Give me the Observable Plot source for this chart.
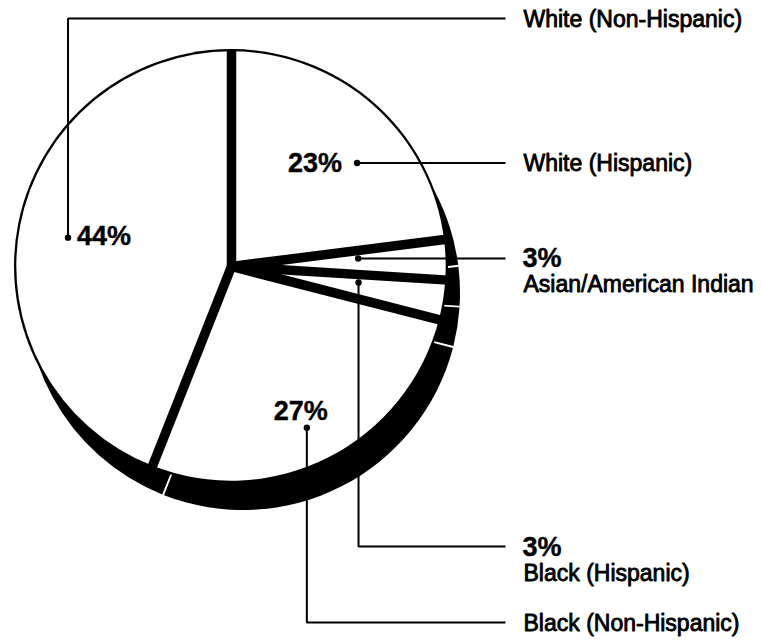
<!DOCTYPE html>
<html><head><meta charset="utf-8">
<script src="https://cdn.jsdelivr.net/npm/d3@7"></script>
<script src="https://cdn.jsdelivr.net/npm/@observablehq/plot@0.6"></script>
<style>
body{margin:0;background:#fff;}
#chart svg{display:block;}
</style>
</head><body><div id="chart"></div>
<script>
// ---- data (clockwise from 12 o'clock) ----
const categories = ["White (Hispanic)", "Asian/American Indian", "Black (Hispanic)", "Black (Non-Hispanic)", "White (Non-Hispanic)"];
const shares = [23, 3, 3, 27, 44];
const pctLabels = ["23%", "3%", "3%", "27%", "44%"];

// ---- layout (not data) ----
const W = 761, H = 641;
const CX = 231, CY = 266, R = 217;
const SHADOW = [12, 27];
const GAP = 9.5;                        // black gap width between slices (px)
// anchor dot: fraction along slice span and fraction of radius
const anchorT = [0.61, 0.33, 0.33, 0.52, 0.495];
const anchorR = [0.75, 0.585, 0.59, 0.82, 0.765];
const route = ["h", "h", "v", "v", "v"];           // leader routing
const labelLineY = [null, null, 546, 622, 18];     // for vertical routes
const pctPlace = ["left", "column", "column", "above", "right"];
const LINE_END = 505, LABEL_X = 524;

const pie = d3.pie().sort(null).value(d => d.share)(categories.map((c, i) => ({cat: c, share: shares[i], i})));
const rows = pie.map((a, i) => {
  const ang = a.startAngle + anchorT[i] * (a.endAngle - a.startAngle);
  const r = anchorR[i] * R;
  const ax = CX + r * Math.sin(ang), ay = CY - r * Math.cos(ang);
  const ly = route[i] === "h" ? ay : labelLineY[i];
  return {cat: a.data.cat, pct: pctLabels[i], a, ax, ay, ly, i};
});
// slice boundaries (radial gaps)
const bounds = pie.map(a => ({x1: CX, y1: CY, x2: CX + R * Math.sin(a.startAngle), y2: CY - R * Math.cos(a.startAngle)}));

const leaders = rows.flatMap(d => route[d.i] === "h"
  ? [{k: d.i, x: d.ax, y: d.ay}, {k: d.i, x: LINE_END, y: d.ly}]
  : [{k: d.i, x: d.ax, y: d.ay}, {k: d.i, x: d.ax, y: d.ly}, {k: d.i, x: LINE_END, y: d.ly}]);

const pctText = rows.map(d => {
  const p = pctPlace[d.i];
  if (p === "left") return {t: d.pct, x: d.ax - 15, y: d.ay + 9, anchor: "end"};
  if (p === "right") return {t: d.pct, x: d.ax + 9, y: d.ay + 7, anchor: "start"};
  if (p === "above") return {t: d.pct, x: d.ax - 6, y: d.ay - 8, anchor: "middle"};
  return {t: d.pct, x: LABEL_X - 2, y: d.ly + 9, anchor: "start"};
});
const catText = rows.map(d => ({t: d.cat, x: LABEL_X - 1, y: pctPlace[d.i] === "column" ? d.ly + 34 : d.ly + 8}));

function pieMark(index, scales, values, dimensions) {
  const sx = scales.x, sy = scales.y;
  const cx = sx(CX), cy = sy(CY), r = sx(CX + R) - sx(CX);
  const g = d3.create("svg:g");
  // shadow / depth
  const arcS = d3.arc().innerRadius(0).outerRadius(r).padAngle(2 / r).padRadius(r);
  g.append("g").attr("transform", `translate(${cx + SHADOW[0]},${cy + SHADOW[1]})`)
    .selectAll("path").data(pie).join("path").attr("d", arcS).attr("fill", "#000");
  // black base disk (outline)
  g.append("circle").attr("cx", cx).attr("cy", cy).attr("r", r).attr("fill", "#000");
  // white slices
  const arcW = d3.arc().innerRadius(0).outerRadius(r - 2.3);
  g.append("g").attr("transform", `translate(${cx},${cy})`)
    .selectAll("path").data(pie).join("path").attr("d", arcW).attr("fill", "#fff");
  return g.node();
}

const font = "'Liberation Sans', Arial, Helvetica, sans-serif";
const pctOpts = {x: "x", y: "y", text: "t", lineAnchor: "bottom", fontSize: 27, fontWeight: "bold", fill: "#000", stroke: "#000", strokeWidth: 0.4, letterSpacing: "-0.5"};
const chart = Plot.plot({
  width: W, height: H, margin: 0,
  x: {domain: [0, W], range: [0, W], axis: null},
  y: {domain: [0, H], range: [0, H], axis: null},
  style: {fontFamily: font, background: "#fff"},
  marks: [
    pieMark,
    Plot.link(bounds, {x1: "x1", y1: "y1", x2: "x2", y2: "y2", stroke: "#000", strokeWidth: GAP, strokeLinecap: "butt"}),
    Plot.line(leaders, {x: "x", y: "y", z: "k", stroke: "#000", strokeWidth: 2, strokeLinejoin: "miter", strokeLinecap: "butt"}),
    Plot.dot(rows, {x: "ax", y: "ay", r: 3.2, fill: "#000", stroke: null}),
    Plot.text(pctText.filter(d => d.anchor === "start"), {...pctOpts, textAnchor: "start"}),
    Plot.text(pctText.filter(d => d.anchor === "end"), {...pctOpts, textAnchor: "end"}),
    Plot.text(pctText.filter(d => d.anchor === "middle"), {...pctOpts, textAnchor: "middle"}),
    Plot.text(catText, {x: "x", y: "y", text: "t", textAnchor: "start", lineAnchor: "bottom", fontSize: 23, fill: "#000", stroke: "#000", strokeWidth: 0.85})
  ]
});
document.getElementById("chart").appendChild(chart);
</script>
</body></html>
